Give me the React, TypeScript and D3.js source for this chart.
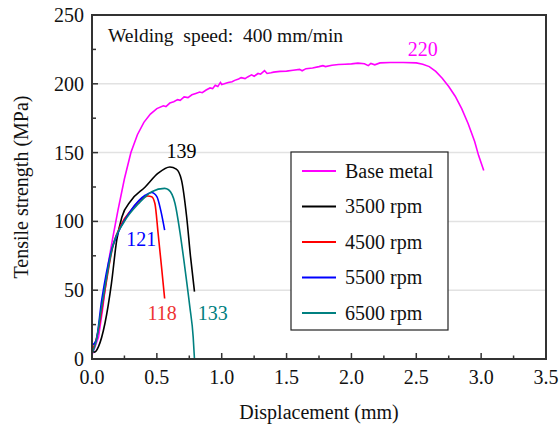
import React from 'react';
import * as d3 from 'd3';

// values: [displacement (mm), tensile strength (MPa)]
const baseMetal: [number, number][] = [
  [0, 3], [0.02, 8], [0.05, 16], [0.08, 35], [0.1, 50], [0.13, 72], [0.16, 88], [0.2, 108],
  [0.25, 131], [0.3, 150], [0.35, 163], [0.4, 172], [0.45, 178], [0.5, 182], [0.55, 184],
  [0.57, 183.5], [0.6, 186], [0.63, 187], [0.66, 188.5], [0.68, 188], [0.71, 190.5], [0.74, 190],
  [0.77, 192], [0.8, 193], [0.83, 194], [0.85, 193.5], [0.88, 195.5], [0.91, 197], [0.93, 196.5],
  [0.95, 199], [0.97, 198], [0.99, 201], [1.0, 199.5], [1.02, 200], [1.05, 201], [1.08, 201.5],
  [1.1, 202.5], [1.13, 203.5], [1.15, 204.5], [1.18, 203.8], [1.2, 205], [1.23, 206.5],
  [1.25, 205.5], [1.28, 207.5], [1.3, 207], [1.33, 209.5], [1.35, 207.5], [1.38, 208], [1.4, 208.5],
  [1.45, 209], [1.5, 209.2], [1.55, 209.8], [1.6, 210.5], [1.62, 209.5], [1.65, 211], [1.7, 211.5],
  [1.75, 212.5], [1.78, 213.2], [1.8, 212.5], [1.85, 213.5], [1.9, 214], [1.95, 214.2], [2.0, 214.5],
  [2.05, 215], [2.1, 214.6], [2.13, 213.2], [2.15, 214.8], [2.18, 213.8], [2.22, 215.2], [2.3, 215.5],
  [2.4, 215.5], [2.5, 215.2], [2.55, 214.2], [2.6, 212.5], [2.65, 209], [2.7, 204], [2.75, 198],
  [2.8, 191], [2.85, 182], [2.9, 171], [2.95, 158], [2.98, 148], [3.02, 137],
];
const rpm3500: [number, number][] = [
  [0, 6], [0.02, 5], [0.05, 9], [0.1, 26], [0.15, 55], [0.19, 86], [0.23, 103], [0.3, 115],
  [0.41, 125], [0.51, 135], [0.6, 139.5], [0.65, 138], [0.69, 130], [0.73, 103], [0.76, 74], [0.79, 49],
];
const rpm4500: [number, number][] = [
  [0, 5], [0.05, 21], [0.1, 50], [0.16, 81.6], [0.23, 98.6], [0.3, 108], [0.38, 116], [0.43, 118.5],
  [0.46, 118], [0.485, 113], [0.51, 91], [0.536, 67], [0.56, 44],
];
const rpm5500: [number, number][] = [
  [0, 10], [0.03, 13], [0.075, 43], [0.15, 79], [0.2, 91.5], [0.3, 108], [0.41, 119], [0.46, 121],
  [0.5, 118], [0.53, 108], [0.56, 93.7],
];
const rpm6500: [number, number][] = [
  [0, 4], [0.03, 12], [0.075, 38], [0.16, 82], [0.25, 100], [0.36, 113], [0.46, 121.6], [0.56, 124],
  [0.59, 123], [0.64, 113], [0.68, 91], [0.715, 67], [0.754, 38], [0.78, 16], [0.79, 0],
];

const seriesNames = ['Base metal', '3500 rpm', '4500 rpm', '5500 rpm', '6500 rpm'];
const seriesColors = ['#ff00ff', '#000000', '#ff0000', '#0000ff', '#008080'];
const seriesData = [baseMetal, rpm3500, rpm4500, rpm5500, rpm6500];

const peakLabels = [
  { text: '220', x: 2.55, y: 220, color: '#ff00ff' },
  { text: '139', x: 0.69, y: 146, color: '#000000' },
  { text: '121', x: 0.38, y: 82, color: '#0000ff' },
  { text: '118', x: 0.54, y: 28, color: '#ee3333' },
  { text: '133', x: 0.93, y: 28, color: '#008080' },
];

const xTicks = [0, 0.5, 1, 1.5, 2, 2.5, 3, 3.5];
const yTicks = [0, 50, 100, 150, 200, 250];

const W = 559;
const H = 425;
const margin = { left: 92, right: 13, top: 15, bottom: 66 };
const FONT = "'Liberation Serif', 'Times New Roman', Times, 'DejaVu Serif', serif";

export default function App() {
  const x = d3.scaleLinear().domain([0, 3.5]).range([margin.left, W - margin.right]);
  const y = d3.scaleLinear().domain([0, 250]).range([H - margin.bottom, margin.top]);
  const line = d3
    .line<[number, number]>()
    .x((d) => x(d[0]))
    .y((d) => y(d[1]))
    .curve(d3.curveMonotoneX);
  const lineLinear = d3
    .line<[number, number]>()
    .x((d) => x(d[0]))
    .y((d) => y(d[1]));

  const x0 = x(0), x1 = x(3.5), y0 = y(0), y1 = y(250);
  const xMinor = d3.range(0, 3.51, 0.25);
  const yMinor = d3.range(0, 251, 25);

  const legend = { left: 291, top: 152, width: 157, height: 178 };

  return (
    <svg width={W} height={H} style={{ position: 'absolute', left: 0, top: 0 }}>
      <rect width={W} height={H} fill="#fff" />
      <g fontFamily={FONT}>
        {/* grid */}
        {yTicks.slice(1, -1).map((t) => (
          <line key={t} x1={x0} x2={x1} y1={y(t)} y2={y(t)} stroke="#e2e2e2" strokeWidth={1.5} />
        ))}
        {/* series */}
        {seriesData.map((d, i) => (
          <path
            key={i}
            d={(i === 0 ? lineLinear(d) : line(d)) || ''}
            fill="none"
            stroke={seriesColors[i]}
            strokeWidth={1.6}
          />
        ))}
        {/* frame */}
        <rect x={x0} y={y1} width={x1 - x0} height={y0 - y1} fill="none" stroke="#333" strokeWidth={2} />
        {/* ticks */}
        {xMinor.map((t, i) => (
          <line key={'xt' + i} x1={x(t)} x2={x(t)} y1={y0} y2={y0 - (i % 2 === 0 ? 6 : 3.5)} stroke="#333" strokeWidth={1.5} />
        ))}
        {yMinor.map((t, i) => (
          <line key={'yt' + i} x1={x0} x2={x0 + (i % 2 === 0 ? 6 : 4)} y1={y(t)} y2={y(t)} stroke="#333" strokeWidth={1.5} />
        ))}
        {xTicks.map((t) => (
          <text key={'xl' + t} x={x(t)} y={y0 + 25} textAnchor="middle" fontSize={20} fill="#111">
            {t.toFixed(1)}
          </text>
        ))}
        {yTicks.map((t) => (
          <text key={'yl' + t} x={x0 - 8} y={y(t) + 7} textAnchor="end" fontSize={20} fill="#111">
            {t}
          </text>
        ))}
        <text x={(x0 + x1) / 2} y={419} textAnchor="middle" fontSize={20} fill="#111">
          Displacement (mm)
        </text>
        <text
          transform={`translate(28,${(y0 + y1) / 2}) rotate(-90)`}
          textAnchor="middle"
          fontSize={20}
          fill="#111"
        >
          Tensile strength (MPa)
        </text>
        <text x={108} y={42} fontSize={19.5} fill="#111" style={{ whiteSpace: 'pre' }}>
          {'Welding  speed:  400 mm/min'}
        </text>
        {peakLabels.map((p) => (
          <text key={p.text} x={x(p.x)} y={y(p.y)} textAnchor="middle" fontSize={20} fill={p.color}>
            {p.text}
          </text>
        ))}
        {/* legend */}
        <rect x={legend.left} y={legend.top} width={legend.width} height={legend.height} fill="#fff" stroke="#222" strokeWidth={1.2} />
        {seriesNames.map((name, i) => {
          const ly = legend.top + 19 + i * 35.5;
          return (
            <g key={name}>
              <line x1={302} x2={336} y1={ly} y2={ly} stroke={seriesColors[i]} strokeWidth={2} />
              <text x={345} y={ly + 6.5} fontSize={20} fill="#111">
                {name}
              </text>
            </g>
          );
        })}
      </g>
    </svg>
  );
}
